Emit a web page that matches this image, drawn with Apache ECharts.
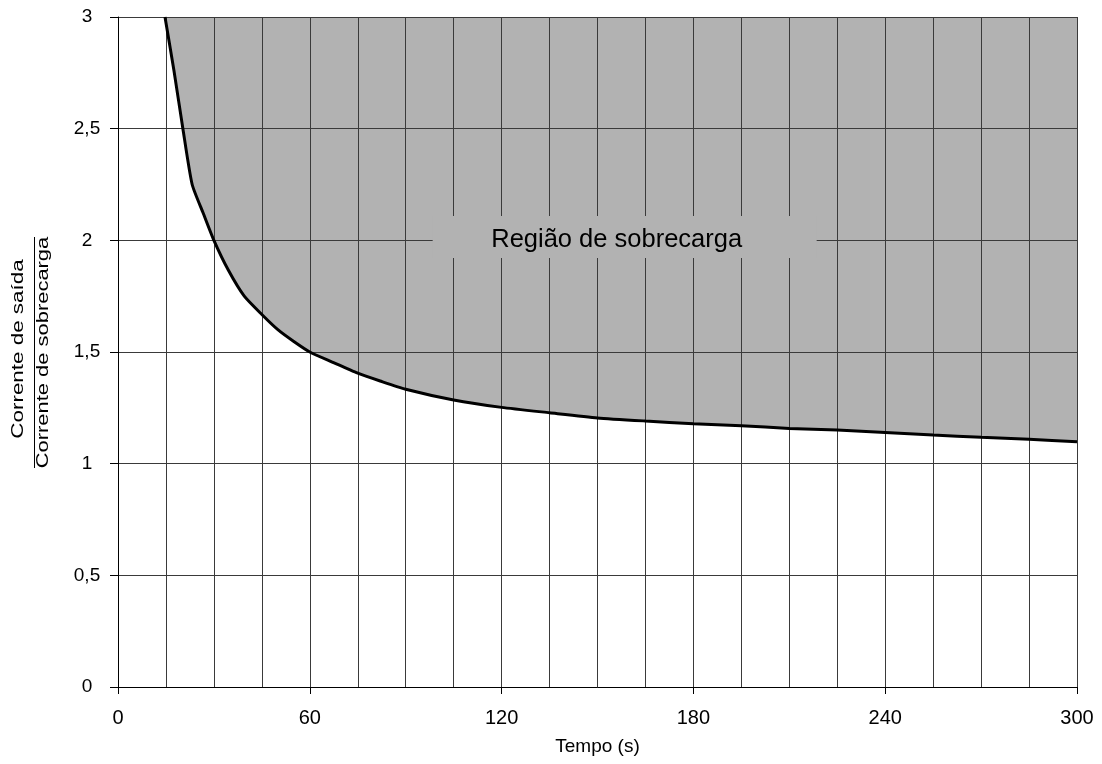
<!DOCTYPE html>
<html>
<head>
<meta charset="utf-8">
<script src="https://cdn.jsdelivr.net/npm/echarts@6/dist/echarts.min.js"></script>
<style>
html,body{margin:0;padding:0;background:#fff;}
#chart{width:1102px;height:764px;}
</style>
</head>
<body>
<div id="chart"></div>
<script>
// Data
const tempo = [14.7, 17.5, 20.3, 23.2, 26.7, 30, 34.5, 39.5, 45, 50, 55, 60, 67, 75, 82, 90, 105, 120, 135, 150, 165, 180, 195, 210, 225, 240, 255, 270, 285, 300];
const corrente = [3.0, 2.76, 2.5, 2.25, 2.12, 2.0, 1.867, 1.75, 1.668, 1.6, 1.547, 1.5, 1.455, 1.405, 1.37, 1.333, 1.285, 1.252, 1.228, 1.205, 1.191, 1.179, 1.17, 1.158, 1.151, 1.14, 1.128, 1.118, 1.109, 1.098];
const xTicks = [0, 60, 120, 180, 240, 300];
const yTicks = [0, 0.5, 1, 1.5, 2, 2.5, 3];
const regionLabel = 'Região de sobrecarga';
const regionLabelAt = [156, 2.0];
const regionBoxAt = [158.5, 2.015];
const xName = 'Tempo (s)';
const yNameTop = 'Corrente de saída';
const yNameBottom = 'Corrente de sobrecarga';

const pts = tempo.map((t, i) => [t, corrente[i]]);
const FONT = 'Liberation Sans, Arial, sans-serif';
const GRID = '#3a3a3a';
const FILL = '#b2b2b2';

const chart = echarts.init(document.getElementById('chart'), null, {renderer: 'canvas'});
chart.setOption({
  animation: false,
  backgroundColor: '#fff',
  grid: {left: 118, right: 25, top: 17, bottom: 77, containLabel: false},
  xAxis: {
    type: 'value', min: xTicks[0], max: xTicks[xTicks.length - 1], interval: 60, z: 3,
    name: xName, nameLocation: 'middle', nameGap: 50,
    nameTextStyle: {fontFamily: FONT, fontSize: 19, color: '#000'},
    axisLine: {show: true, lineStyle: {color: '#000', width: 1}},
    axisTick: {show: true, length: 7, lineStyle: {color: '#000'}},
    axisLabel: {fontFamily: FONT, fontSize: 20, color: '#000', margin: 21},
    splitLine: {show: true, lineStyle: {color: GRID, width: 1}},
    minorTick: {show: false, splitNumber: 4},
    minorSplitLine: {show: true, lineStyle: {color: GRID, width: 1}}
  },
  yAxis: {
    type: 'value', min: yTicks[0], max: yTicks[yTicks.length - 1], interval: 0.5, z: 3,
    axisLine: {show: true, lineStyle: {color: '#000', width: 1}},
    axisTick: {show: true, length: 8, lineStyle: {color: '#000'}},
    axisLabel: {fontFamily: FONT, fontSize: 19, color: '#000', align: 'center', margin: 31,
      formatter: v => String(v).replace('.', ',')},
    splitLine: {show: true, lineStyle: {color: GRID, width: 1}}
  },
  series: [
    {
      type: 'line', data: pts, smooth: 0.2, symbol: 'none', z: 1,
      lineStyle: {width: 0, color: FILL},
      areaStyle: {origin: 'end', color: FILL, opacity: 1}
    },
    {
      type: 'line', data: pts, smooth: 0.2, symbol: 'none', z: 5,
      lineStyle: {width: 3, color: '#000'}
    }
  ]
});

function place() {
  const box = chart.convertToPixel({xAxisIndex: 0, yAxisIndex: 0}, regionBoxAt);
  const lab = chart.convertToPixel({xAxisIndex: 0, yAxisIndex: 0}, regionLabelAt);
  chart.setOption({
    graphic: [
      {type: 'rect', z: 10, shape: {x: box[0] - 192, y: box[1] - 21, width: 384, height: 42},
        style: {fill: FILL}},
      {type: 'text', z: 11, x: lab[0], y: lab[1],
        style: {text: regionLabel, font: '25.5px ' + FONT, fill: '#000', align: 'center', verticalAlign: 'middle'}},
      {type: 'text', z: 11, x: 19, y: 349, rotation: Math.PI / 2, scaleX: 1.4,
        style: {text: yNameTop, font: '16px ' + FONT, fill: '#000', align: 'center', verticalAlign: 'middle'}},
      {type: 'line', z: 11, shape: {x1: 34.5, y1: 237, x2: 34.5, y2: 468},
        style: {stroke: '#000', lineWidth: 1}},
      {type: 'text', z: 11, x: 44, y: 352.5, rotation: Math.PI / 2, scaleX: 1.37,
        style: {text: yNameBottom, font: '16px ' + FONT, fill: '#000', align: 'center', verticalAlign: 'middle'}}
    ]
  });
}
place();
</script>
</body>
</html>
